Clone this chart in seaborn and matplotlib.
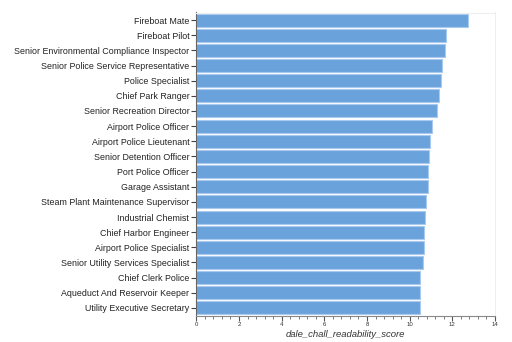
import matplotlib
matplotlib.use("Agg")
import matplotlib.pyplot as plt
import seaborn as sns
import pandas as pd
import numpy as np
from matplotlib.ticker import MultipleLocator

titles = [
    "Fireboat Mate", "Fireboat Pilot", "Senior Environmental Compliance Inspector",
    "Senior Police Service Representative", "Police Specialist", "Chief Park Ranger",
    "Senior Recreation Director", "Airport Police Officer", "Airport Police Lieutenant",
    "Senior Detention Officer", "Port Police Officer", "Garage Assistant",
    "Steam Plant Maintenance Supervisor", "Industrial Chemist", "Chief Harbor Engineer",
    "Airport Police Specialist", "Senior Utility Services Specialist", "Chief Clerk Police",
    "Aqueduct And Reservoir Keeper", "Utility Executive Secretary",
]
scores = [12.75, 11.72, 11.67, 11.50, 11.49, 11.38, 11.30, 11.05, 10.96, 10.91,
          10.86, 10.85, 10.78, 10.72, 10.68, 10.67, 10.64, 10.50, 10.48, 10.47]
xticks = [0, 2, 4, 6, 8, 10, 12, 14]

df = pd.DataFrame({"title": titles, "dale_chall_readability_score": scores})

sns.set_theme(style="white")
plt.rcParams['font.family'] = ['Liberation Sans', 'DejaVu Sans']

fig = plt.figure(figsize=(5.12, 3.42), dpi=100)
ax = fig.add_axes([196.3/512, 1 - 315.5/342, (495 - 196.3)/512, (315.5 - 12.5)/342])

sns.barplot(data=df, x="dale_chall_readability_score", y="title", orient="h",
            color="#6aa3dc", saturation=1, width=0.86,
            edgecolor="#a9c9ee", linewidth=0.8, ax=ax)

ax.set_xlim(0, 14)
ax.set_xticks(xticks)
ax.xaxis.set_minor_locator(MultipleLocator(0.4))
ax.tick_params(axis="x", which="major", length=3.5, width=0.8, color="#555555",
               labelsize=4.3, labelcolor="#333333", pad=1.5, bottom=True)
ax.tick_params(axis="x", which="minor", length=2, width=0.6, color="#666666", bottom=True)
ax.tick_params(axis="y", length=3.5, width=0.8, color="#444444", labelsize=6.4,
               labelcolor="#222222", pad=1.5, left=True)
ax.set_ylabel("")
ax.set_xlabel("dale_chall_readability_score", fontsize=6.8, style="italic",
              color="#333333", labelpad=2)
for side in ["top", "right"]:
    ax.spines[side].set_visible(True)
    ax.spines[side].set_color("#eeeeee")
    ax.spines[side].set_linewidth(0.8)
ax.spines["left"].set_color("#666666")
ax.spines["left"].set_linewidth(0.8)
ax.spines["bottom"].set_color("#888888")
ax.spines["bottom"].set_linewidth(0.8)
ax.grid(False)

fig.savefig("out.png", dpi=100)
